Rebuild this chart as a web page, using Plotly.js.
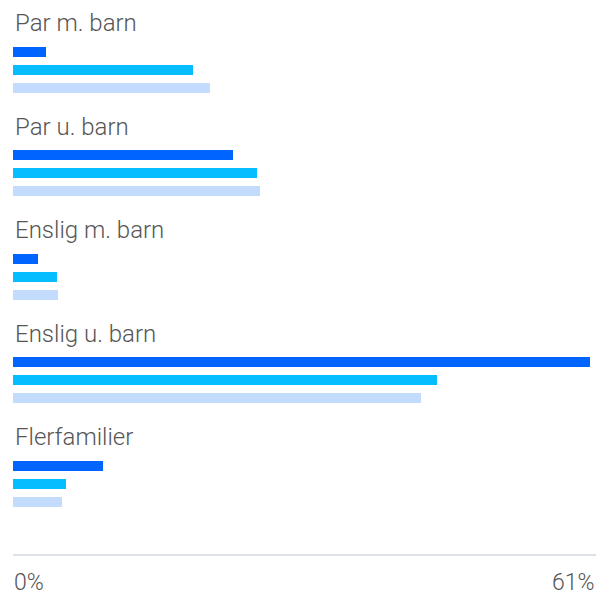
<!DOCTYPE html>
<html>
<head>
<meta charset="utf-8">
<script src="https://cdn.plot.ly/plotly-3.0.1.min.js"></script>
<style>html,body{margin:0;padding:0;background:#fff}#chart{width:610px;height:596px}</style>
</head>
<body>
<div id="chart"></div>
<script>
// Data
const categories = ["Par m. barn", "Par u. barn", "Enslig m. barn", "Enslig u. barn", "Flerfamilier"];
const seriesA = [3.45, 23.0, 2.6, 60.4, 9.4];
const seriesB = [18.8, 25.5, 4.6, 44.4, 5.5];
const seriesC = [20.6, 25.8, 4.7, 42.7, 5.1];
const tickLabels = ["0%", "61%"];
const axisMax = 61;

// Styling / layout
const colors = ["#0064FF", "#06BEFF", "#C3DBFC"];
const offsets = [0.287, 0.461, 0.633];
const barW = 0.097;
const FONT = "Roboto, 'Open Sans', sans-serif";
const TXT = {family: FONT, size: 24, color: "#555555", weight: 300};
const TICK = {family: FONT, size: 23, color: "#555555", weight: 300};

const allSeries = [seriesA, seriesB, seriesC];
const traces = allSeries.map((vals, k) => ({
  type: "bar",
  orientation: "h",
  x: vals,
  y: categories.map((c, i) => i + offsets[k]),
  width: barW,
  marker: {color: colors[k]},
  hoverinfo: "skip",
  showlegend: false
}));

const annotations = categories.map((c, i) => ({
  text: c, xref: "paper", x: 0, yref: "y", y: i + 0.01,
  xanchor: "left", yanchor: "middle", showarrow: false,
  font: TXT
}));
annotations.push({
  text: tickLabels[0], xref: "x", x: 0, yref: "paper", y: -0.0255,
  xanchor: "left", yanchor: "top", showarrow: false, borderpad: 0,
  font: TICK
});
annotations.push({
  text: tickLabels[1], xref: "x", x: axisMax, yref: "paper", y: -0.0255,
  xanchor: "right", yanchor: "top", showarrow: false, borderpad: 0,
  font: TICK
});

const layout = {
  width: 610, height: 596,
  margin: {l: 13, r: 14, t: 0, b: 42},
  paper_bgcolor: "#ffffff", plot_bgcolor: "#ffffff",
  xaxis: {range: [0, axisMax], showgrid: false, zeroline: false, showticklabels: false,
          showline: true, linecolor: "#DCE2E8", linewidth: 1.5, ticks: "", fixedrange: true},
  yaxis: {range: [5.14, -0.2126], showgrid: false, zeroline: false, showticklabels: false,
          showline: false, ticks: "", fixedrange: true},
  annotations: annotations,
  bargap: 0
};

Plotly.newPlot("chart", traces, layout, {displayModeBar: false, staticPlot: true});
</script>
</body>
</html>
